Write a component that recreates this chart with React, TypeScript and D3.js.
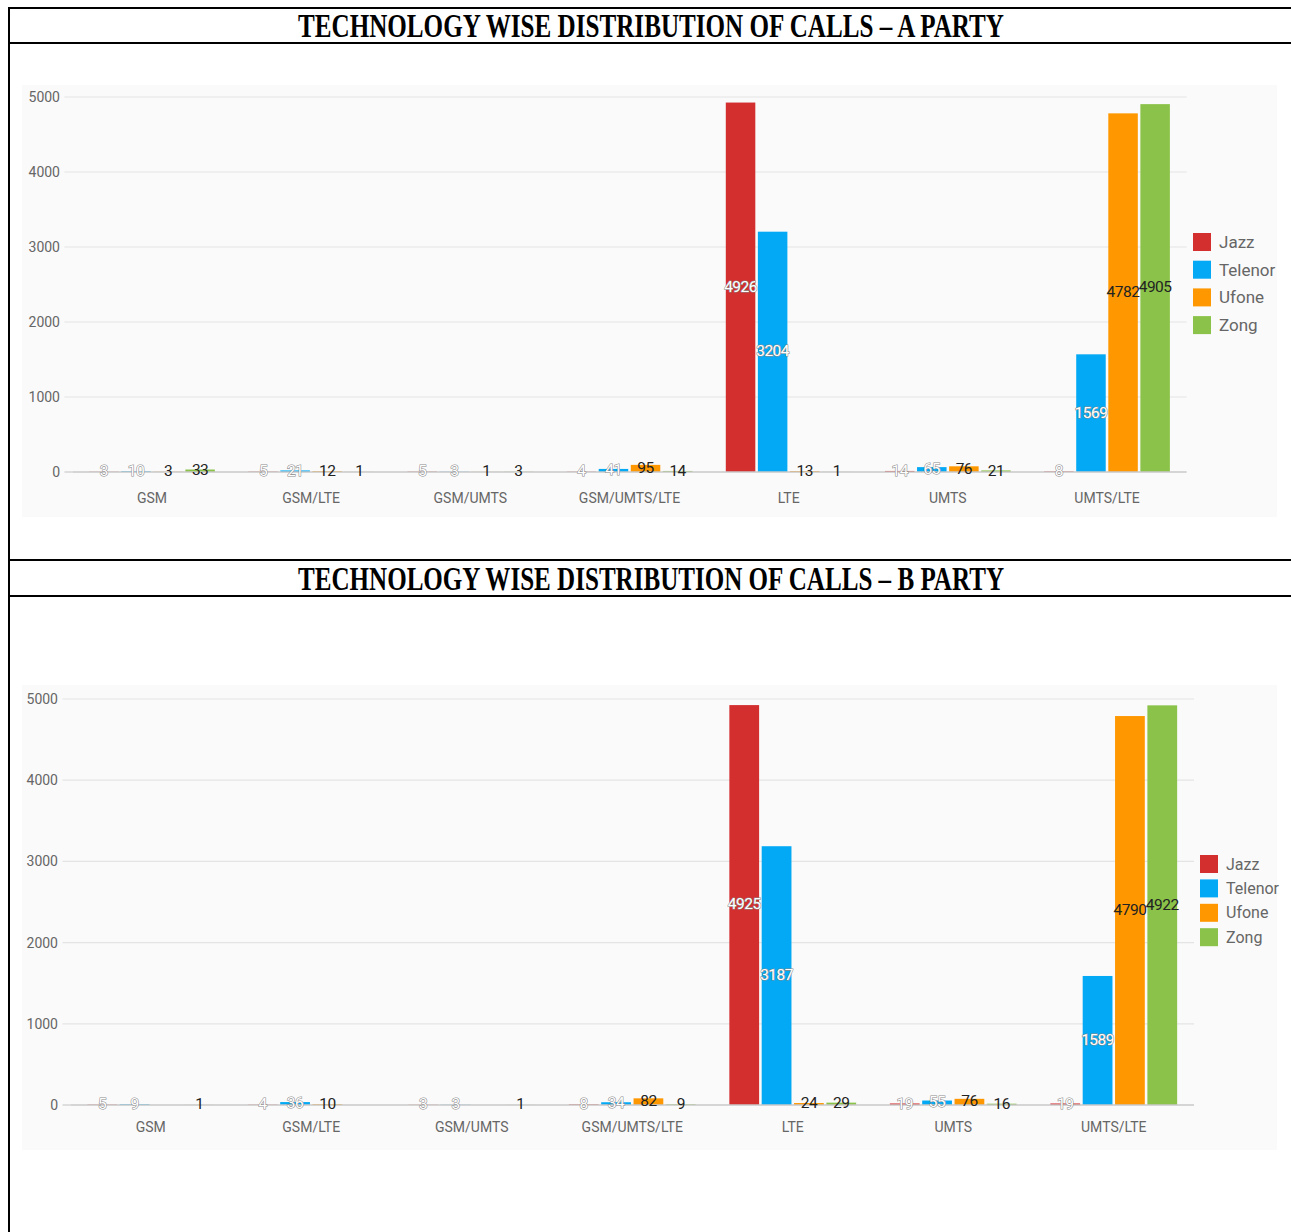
import React from "react";
import * as d3 from "d3";

const categories = ["GSM", "GSM/LTE", "GSM/UMTS", "GSM/UMTS/LTE", "LTE", "UMTS", "UMTS/LTE"];
const seriesNames = ["Jazz", "Telenor", "Ufone", "Zong"];
const seriesColors = ["#d32f2f", "#03a9f4", "#ff9800", "#8bc34a"];
const labelColors = ["#ffffff", "#ffffff", "#222222", "#222222"];
const yTicks = [0, 1000, 2000, 3000, 4000, 5000];

// A party values per series (order of categories)
const aJazz = [3, 5, 5, 4, 4926, 14, 8];
const aTelenor = [10, 21, 3, 41, 3204, 65, 1569];
const aUfone = [3, 12, 1, 95, 13, 76, 4782];
const aZong = [33, 1, 3, 14, 1, 21, 4905];

// B party values per series
const bJazz = [5, 4, 3, 8, 4925, 19, 19];
const bTelenor = [9, 36, 3, 34, 3187, 55, 1589];
const bUfone: (number | null)[] = [null, 10, null, 82, 24, 76, 4790];
const bZong: (number | null)[] = [1, null, 1, 9, 29, 16, 4922];

const titleA = "TECHNOLOGY WISE DISTRIBUTION OF CALLS – A PARTY";
const titleB = "TECHNOLOGY WISE DISTRIBUTION OF CALLS – B PARTY";

type Layout = {
  bgX: number; bgY: number; bgW: number; bgH: number;
  x0: number; x1: number; yTop: number; yBase: number;
  yLabelX: number; xLabelY: number;
  legX: number; legY: number; legStep: number; legSize: number; legFont: number;
};

function Chart({ series, layout }: { series: (number | null)[][]; layout: Layout }) {
  const L = layout;
  const x = d3.scaleBand<string>().domain(categories).range([L.x0, L.x1]).paddingInner(0.21).paddingOuter(0.105);
  const xs = d3.scaleBand<string>().domain(seriesNames).range([0, x.bandwidth()]).paddingInner(0.08);
  const y = d3.scaleLinear().domain([0, 5000]).range([L.yBase, L.yTop]);
  const font = "Roboto, 'Noto Sans', sans-serif";
  return (
    <g>
      <rect x={L.bgX} y={L.bgY} width={L.bgW} height={L.bgH} fill="#fafafa" />
      {yTicks.map((t) => (
        <g key={t}>
          {t > 0 && <line x1={L.x0 - 8} x2={L.x1} y1={y(t)} y2={y(t)} stroke="#e4e4e4" strokeWidth={1.2} />}
          <text x={L.yLabelX} y={y(t)} dy="0.35em" textAnchor="end" fontFamily={font} fontSize={14} fill="#666">
            {t}
          </text>
        </g>
      ))}
      <line x1={L.x0 - 8} x2={L.x0} y1={L.yBase} y2={L.yBase} stroke="#ccc" strokeWidth={1.2} />
      {categories.map((c, ci) => (
        <g key={c} transform={`translate(${x(c)},0)`}>
          {seriesNames.map((s, si) => {
            const v = series[si][ci];
            if (v == null) return null;
            const bx = xs(s)!;
            const by = y(v);
            const h = L.yBase - by;
            return (
              <g key={s}>
                <rect x={bx} y={by} width={xs.bandwidth()} height={h} fill={seriesColors[si]} />
              </g>
            );
          })}
        </g>
      ))}
      <line x1={L.x0} x2={L.x1} y1={L.yBase} y2={L.yBase} stroke="#c8c8c8" strokeWidth={1.5} />
      {categories.map((c, ci) => (
        <g key={c + "l"} transform={`translate(${x(c)},0)`}>
          {seriesNames.map((s, si) => {
            const v = series[si][ci];
            if (v == null) return null;
            const bx = xs(s)! + xs.bandwidth() / 2;
            const my = (y(v) + L.yBase) / 2 - 1;
            const white = labelColors[si] === "#ffffff";
            return (
              <text
                key={s}
                x={bx}
                y={my}
                dy="0.35em"
                textAnchor="middle"
                fontFamily={font}
                fontSize={15.5}
                fill={labelColors[si]}
                stroke={white ? "#8a8a8a" : "none"}
                strokeWidth={white ? 1.1 : 0}
                paintOrder="stroke"
                letterSpacing={-0.5}
              >
                {v}
              </text>
            );
          })}
          <text x={x.bandwidth() / 2} y={L.xLabelY} dy="0.35em" textAnchor="middle" fontFamily={font} fontSize={14} fill="#666">
            {c}
          </text>
        </g>
      ))}
      {seriesNames.map((s, si) => (
        <g key={s} transform={`translate(${L.legX},${L.legY + si * L.legStep})`}>
          <rect x={0} y={-L.legSize / 2} width={L.legSize} height={L.legSize} fill={seriesColors[si]} />
          <text x={L.legSize + 8} y={0} dy="0.35em" fontFamily={font} fontSize={L.legFont} fill="#666">
            {s}
          </text>
        </g>
      ))}
    </g>
  );
}

const layoutA: Layout = {
  bgX: 22, bgY: 85, bgW: 1255, bgH: 432,
  x0: 72.4, x1: 1186.6, yTop: 97, yBase: 472,
  yLabelX: 60, xLabelY: 498,
  legX: 1193, legY: 242, legStep: 27.7, legSize: 18, legFont: 17,
};

const layoutB: Layout = {
  bgX: 22, bgY: 685, bgW: 1255, bgH: 465,
  x0: 70.5, x1: 1194, yTop: 699, yBase: 1105,
  yLabelX: 58, xLabelY: 1127,
  legX: 1200, legY: 864, legStep: 24.4, legSize: 18, legFont: 16,
};

export default function App() {
  const W = 1291, H = 1232;
  const serif = "'Liberation Serif', 'DejaVu Serif', serif";
  return (
    <svg width={W} height={H} style={{ position: "absolute", left: 0, top: 0, display: "block" }}>
      <rect x={0} y={0} width={W} height={H} fill="#ffffff" />
      <Chart series={[aJazz, aTelenor, aUfone, aZong]} layout={layoutA} />
      <Chart series={[bJazz, bTelenor, bUfone, bZong]} layout={layoutB} />
      {/* table borders */}
      <line x1={8} x2={W} y1={8} y2={8} stroke="#000" strokeWidth={2} />
      <line x1={8} x2={W} y1={43} y2={43} stroke="#000" strokeWidth={2} />
      <line x1={8} x2={W} y1={560} y2={560} stroke="#000" strokeWidth={2} />
      <line x1={8} x2={W} y1={596} y2={596} stroke="#000" strokeWidth={2} />
      <line x1={9} x2={9} y1={7} y2={H} stroke="#000" strokeWidth={2} />
      <text x={651} y={37} textAnchor="middle" fontFamily={serif} fontWeight="bold" fontSize={33}
        textLength={706} lengthAdjust="spacingAndGlyphs" fill="#000">
        {titleA}
      </text>
      <text x={651} y={590} textAnchor="middle" fontFamily={serif} fontWeight="bold" fontSize={33}
        textLength={706} lengthAdjust="spacingAndGlyphs" fill="#000">
        {titleB}
      </text>
    </svg>
  );
}
